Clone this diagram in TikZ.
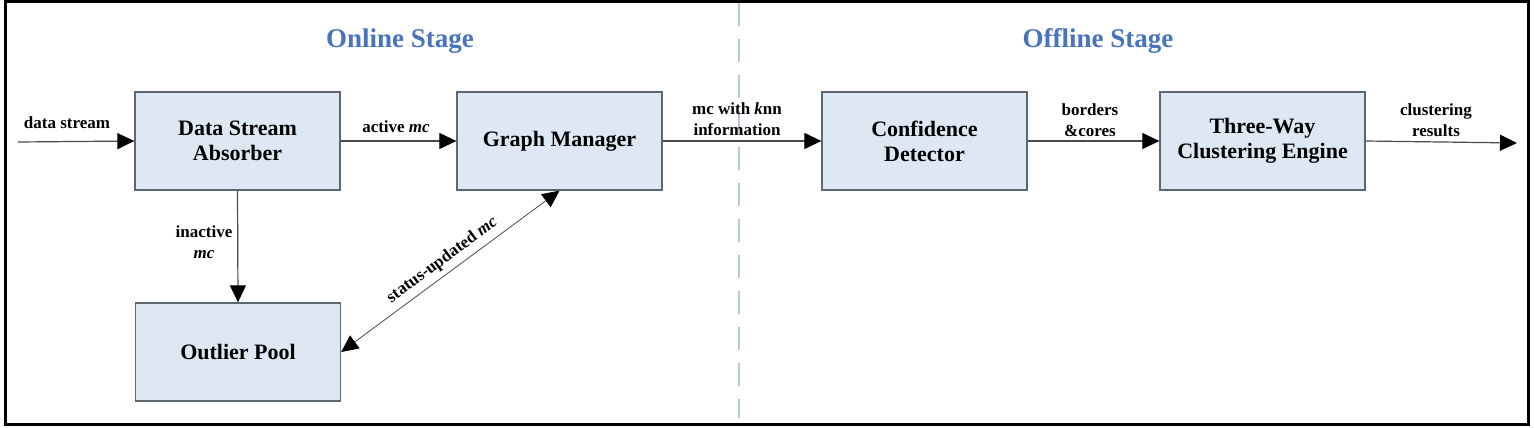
\documentclass[tikz,border=0pt]{standalone}
\usepackage{fontspec}
\setmainfont{Liberation Serif}
\usetikzlibrary{arrows.meta}

\definecolor{boxblue}{HTML}{DEE8F4}
\definecolor{boxgray}{HTML}{5E6873}
\definecolor{linegray}{HTML}{4A4A4A}
\definecolor{stageblue}{HTML}{4A73BE}
\definecolor{splitblue}{HTML}{B5C8DC}

\tikzset{
    module/.style={draw=boxgray, fill=boxblue, line width=1.3pt,
        minimum width=205pt, minimum height=98pt, align=center,
        font=\fontsize{22}{25}\selectfont\bfseries},
    tip/.style={Triangle[length=17pt,width=16pt,color=black]},
    flow/.style={-{Triangle[length=17pt,width=16pt,color=black]}, line width=1.2pt, draw=linegray},
    twoway/.style={{Triangle[length=17pt,width=16pt,color=black]}-{Triangle[length=17pt,width=16pt,color=black]}, line width=0.8pt, draw=linegray},
    tag/.style={font=\fontsize{17}{21}\selectfont\bfseries, align=center},
    stage/.style={font=\fontsize{27}{32}\selectfont\bfseries, text=stageblue}
}

\begin{document}
\begin{tikzpicture}[x=1pt, y=-1pt]
    \useasboundingbox (0,0) rectangle (1534,428);

    % Rahmen und Trennlinie
    \draw[line width=3pt] (5,2) rectangle (1528,424);
    \draw[splitblue, line width=2.5pt, dash pattern=on 23pt off 13pt] (739,3) -- (739,418);

    \node[stage] (online) at (400,41) {Online Stage};
    \node[stage] (offline) at (1098,41) {Offline Stage};

    % Module
    \node[module] (absorber) at (237.5,141) {Data Stream\\Absorber};
    \node[module] (graph) at (559.5,141) {Graph Manager};
    \node[module] (pool) at (238,352) {Outlier Pool};
    \node[module] (detector) at (924.5,141) {Confidence\\Detector};
    \node[module] (engine) at (1262.5,141) {Three-Way\\Clustering Engine};

    \coordinate (input) at (18,142);
    \coordinate (output) at (1517,143);

    % Verbindungen
    \draw[flow] (input) -- (absorber.west);
    \draw[flow] (absorber.east) -- (graph.west);
    \draw[flow] (absorber.south) -- (pool.north);
    \draw[twoway] (pool.east) -- (graph.south)
        node[tag, sloped, above, midway, yshift=2pt] {status-updated \textit{mc}};
    \draw[flow] (graph.east) -- (detector.west);
    \draw[flow] (detector.east) -- (engine.west);
    \draw[flow] (engine.east) -- (output);

    % Beschriftungen
    \node[tag] at (67,123) {data stream};
    \node[tag] at (396,127) {active \textit{mc}};
    \node[tag] at (204,242) {inactive\\\textit{mc}};
    \node[tag] at (737,119) {mc with \textit{k}nn\\information};
    \node[tag] at (1090,120) {borders\\\&cores};
    \node[tag] at (1436,120) {clustering\\results};
\end{tikzpicture}
\end{document}
